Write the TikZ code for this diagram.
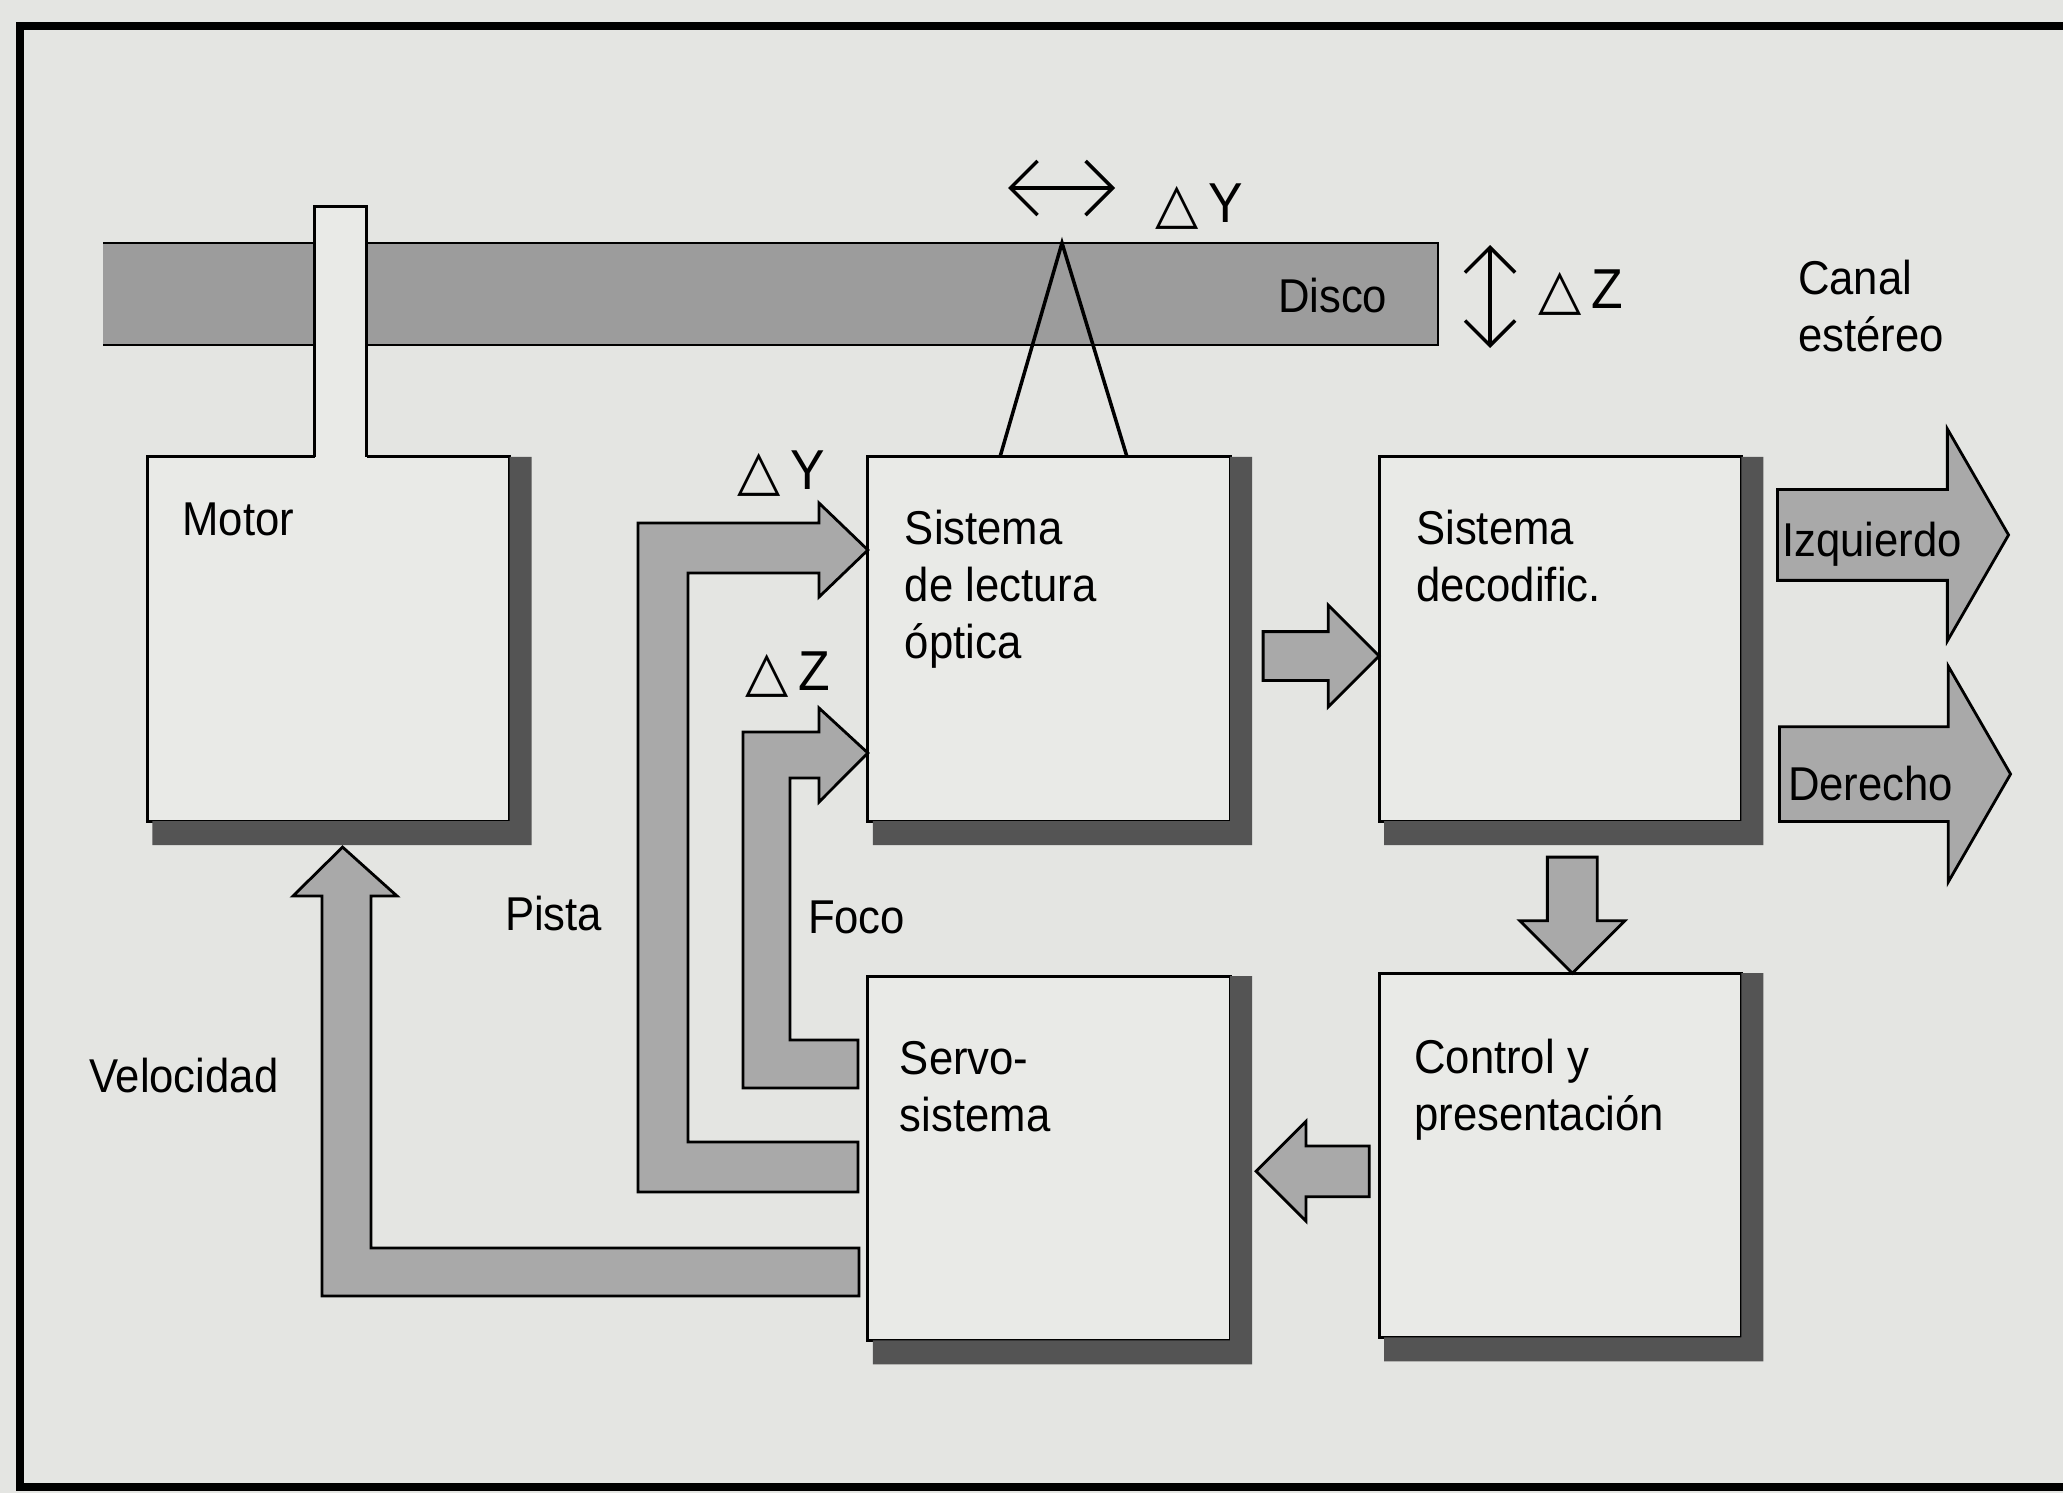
\documentclass[tikz,border=0pt]{standalone}
\usepackage{fontspec}
\setmainfont{Liberation Sans}[FakeStretch=0.92]
\newfontfamily\simbolos{DejaVu Sans}
\usepackage{tikz}
\usetikzlibrary{arrows.meta,calc}
\usetikzlibrary{positioning,shapes.arrows}
\definecolor{fondo}{HTML}{E4E5E2}
\definecolor{claro}{HTML}{E9EAE7}
\definecolor{sombra}{HTML}{545454}
\definecolor{gris}{HTML}{9C9C9C}
\definecolor{grisfl}{HTML}{A9A9A9}

\begin{document}
\begin{tikzpicture}[x=0.01cm,y=-0.01cm,node distance=1.5cm,every node/.style={font=\fontsize{13.5}{16.2}\selectfont,inner sep=0pt,outer sep=0pt},bloque/.style={draw,line width=0.8pt,fill=claro,minimum width=3.62cm,minimum height=3.64cm},texto/.style={align=left,anchor=north west},flecha/.style={draw,line width=0.8pt,fill=grisfl,line join=miter},pieza/.style={single arrow,draw,line width=0.8pt,fill=grisfl},delta/.style={font=\fontsize{16}{18}\selectfont,anchor=base west},barb/.style={line width=1pt,{Straight Barb[length=#1,width=2*#1]}-{Straight Barb[length=#1,width=2*#1]}}]
\fill[fondo] (0,0) rectangle (2063,1493);
\useasboundingbox (0,0) rectangle (2063,1493);
\draw[line width=2.3pt] (2063,26) -- (20,26) -- (20,1487) -- (2063,1487);
\fill[gris] (103,243) rectangle (1438,345);
\draw[line width=0.8pt] (103,243) -- (1438,243) -- (1438,345) -- (103,345);
\node[anchor=base west] (disco) at (1278,312) {Disco};
\node[bloque] (lectura) at (1049,639) {};
\node[bloque,right=1.49cm of lectura] (decod) {};
\node[bloque,below=1.55cm of lectura] (servo) {};
\node[bloque,below=1.52cm of decod] (control) {};
\node[bloque,left=3.58cm of lectura] (motor) {};
\foreach \b in {motor,lectura,decod,servo,control}
  \fill[sombra] (\b.north east) -- ++(22,0) -- ([shift={(22,24)}]\b.south east) -- ([shift={(5,24)}]\b.south west) -- ([shift={(5,0)}]\b.south west) -- (\b.south east) -- cycle;
\coordinate (laser) at (1062,243);
\draw[line width=1pt] ([shift={(-49,0)}]lectura.north) -- (laser) -- ([shift={(78,0)}]lectura.north);
\fill[claro] ([shift={(-14,2)}]motor.north) rectangle ([shift={(38,-250)}]motor.north);
\draw[line width=0.8pt] ([shift={(-14,0)}]motor.north) -- ++(0,-250) -- ++(52,0) -- ++(0,250);
\node[texto] (motorT) at ([shift={(35,46)}]motor.north west) {Motor};
\node[texto] (lecturaT) at ([shift={(37,53)}]lectura.north west) {Sistema\\de lectura\\óptica};
\node[texto] (decodT) at ([shift={(37,53)}]decod.north west) {Sistema\\decodific.};
\node[texto] (servoT) at ([shift={(32,65)}]servo.north west) {Servo-\\sistema};
\node[texto] (controlT) at ([shift={(35,66)}]control.north west) {Control y\\presentación};
\node[texto] (canal) at (1798,260) {Canal\\estéreo};
\node[anchor=base west] (pista) at (505,930) {Pista};
\node[anchor=base west] (foco) at (808,933) {Foco};
\node[anchor=base west] (velocidad) at (89,1092) {Velocidad};
\node[delta] (dY) at (1155,222) {{\simbolos △}\hspace{3pt}Y};
\node[delta] (dZ) at (1538,308) {{\simbolos △}\hspace{3pt}Z};
\node[delta] (dYp) at (737,489) {{\simbolos △}\hspace{3pt}Y};
\node[delta] (dZf) at (745,690) {{\simbolos △}\hspace{3pt}Z};
\coordinate (hizq) at (1008,188);
\coordinate (hder) at (1115,188);
\coordinate (varr) at (1490,245);
\coordinate (vab) at (1490,348);
\draw[barb=0.27cm] (hizq) -- (hder);
\draw[barb=0.25cm] (varr) -- (vab);
\node[pieza,inner ysep=0.23cm,single arrow head extend=0.265cm,minimum height=1.16cm,anchor=tip] (f1) at ([yshift=-0.17cm]decod.west) {};
\node[pieza,rotate=-90,inner ysep=0.235cm,single arrow head extend=0.275cm,minimum height=1.16cm,anchor=tip] (f2) at ([xshift=0.12cm]control.north) {};
\node[pieza,rotate=180,inner ysep=0.24cm,single arrow head extend=0.245cm,minimum height=1.13cm,anchor=tip] (f3) at ([xshift=0.26cm,yshift=-0.13cm]servo.east) {};
\node[pieza,single arrow tip angle=120,inner ysep=0.44cm,single arrow head extend=0.605cm,minimum height=2.31cm,anchor=tail] (izq) at ([xshift=0.36cm,yshift=1.04cm]decod.east) {};
\node[pieza,single arrow tip angle=120,inner ysep=0.46cm,single arrow head extend=0.605cm,minimum height=2.31cm,anchor=tail] (der) at ([xshift=0.38cm,yshift=-1.35cm]decod.east) {};
\node[anchor=base west] (izqT) at (1782,556) {Izquierdo};
\node[anchor=base west] (derT) at (1788,800) {Derecho};
\draw[flecha] (859,1248) -- (371,1248) -- (371,896) -- (397,896) -- ([shift={(14,26)}]motor.south) -- (293,896) -- (322,896) -- (322,1296) -- (859,1296) -- cycle;
\draw[flecha] (858,1142) -- (688,1142) -- (688,573) -- (819,573) -- (819,597) -- (lectura.west |- 0,550) -- (819,503) -- (819,523) -- (638,523) -- (638,1192) -- (858,1192) -- cycle;
\draw[flecha] (858,1040) -- (790,1040) -- (790,778) -- (819,778) -- (819,802) -- (lectura.west |- 0,753) -- (819,708) -- (819,732) -- (743,732) -- (743,1088) -- (858,1088) -- cycle;
\end{tikzpicture}
\end{document}
